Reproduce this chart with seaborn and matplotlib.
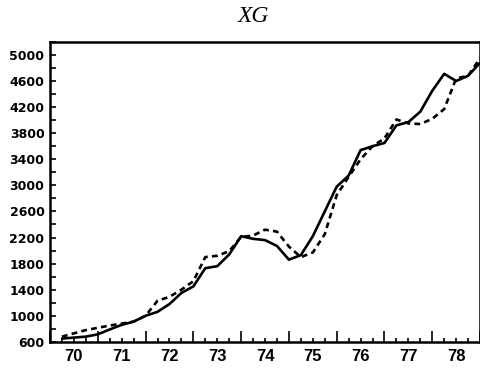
import numpy as np
import pandas as pd
import matplotlib
matplotlib.use("Agg")
import matplotlib.pyplot as plt
from matplotlib.ticker import MultipleLocator, FixedLocator
import seaborn as sns

# Quarterly observations, 1970 Q2 through 1979 Q1
quarters = [1970.25 + 0.25 * i for i in range(36)]
actual = [650, 665, 680, 715, 790, 860, 910, 1000,
          1060, 1180, 1350, 1450, 1730, 1760, 1940, 2220,
          2180, 2160, 2070, 1860, 1930, 2220, 2600, 2980,
          3150, 3540, 3600, 3650, 3920, 3970, 4130, 4450,
          4710, 4600, 4680, 4880]
simulated = [680, 730, 780, 815, 850, 880, 910, 1000,
             1230, 1290, 1400, 1530, 1900, 1920, 1990, 2210,
             2230, 2320, 2290, 2060, 1900, 1970, 2250, 2850,
             3130, 3400, 3600, 3720, 4010, 3950, 3940, 4020,
             4170, 4640, 4680, 4950]
year_labels = ["70", "71", "72", "73", "74", "75", "76", "77", "78"]

df = pd.DataFrame({"t": quarters + quarters,
                   "XG": actual + simulated,
                   "series": ["actual"] * len(quarters) + ["simulated"] * len(quarters)})

sns.set_style("white")
plt.rcParams.update({"text.color": "black", "xtick.color": "black",
                     "ytick.color": "black", "axes.labelcolor": "black"})
fig = plt.figure(figsize=(4.81, 3.74), dpi=100)
ax = fig.add_axes([0.104, 0.086, 0.894, 0.802])

sns.lineplot(data=df, x="t", y="XG", style="series", color="black",
             dashes={"actual": "", "simulated": (2.2, 1.6)},
             linewidth=1.9, legend=False, ax=ax)

ax.set_xlim(1970, 1979)
ax.set_ylim(600, 5200)
ax.set_xlabel("")
ax.set_ylabel("")

# y axis: labelled every 400, extra ticks every 200
ax.yaxis.set_major_locator(FixedLocator(np.arange(600, 5001, 400)))
ax.yaxis.set_minor_locator(MultipleLocator(200))
ax.tick_params(axis="y", which="both", left=True, direction="in", length=4,
               width=1.2, labelsize=9, pad=4, colors="black")
for lab in ax.get_yticklabels():
    lab.set_fontweight("bold")
    lab.set_family("DejaVu Sans")

# x axis: long ticks at year boundaries, short at quarters, labels mid-year
ax.xaxis.set_major_locator(FixedLocator(np.arange(1970, 1980, 1)))
ax.xaxis.set_minor_locator(MultipleLocator(0.25))
ax.set_xticklabels([])
ax.tick_params(axis="x", which="major", bottom=True, direction="in",
               length=8, width=1.2, colors="black")
ax.tick_params(axis="x", which="minor", bottom=True, direction="in",
               length=3, width=1.2, colors="black")
for i, lab in enumerate(year_labels):
    ax.text(1970.5 + i, -0.025, lab, transform=ax.get_xaxis_transform(),
            ha="center", va="top", fontsize=12, fontweight="bold",
            color="black", family=["Liberation Sans", "DejaVu Sans"])

for s in ax.spines.values():
    s.set_linewidth(1.8)
    s.set_color("black")

fig.text(0.527, 0.955, "XG", ha="center", va="center", fontsize=17,
         style="italic", color="black",
         family=["Liberation Serif", "DejaVu Serif"])

fig.savefig("out.png", dpi=100)
